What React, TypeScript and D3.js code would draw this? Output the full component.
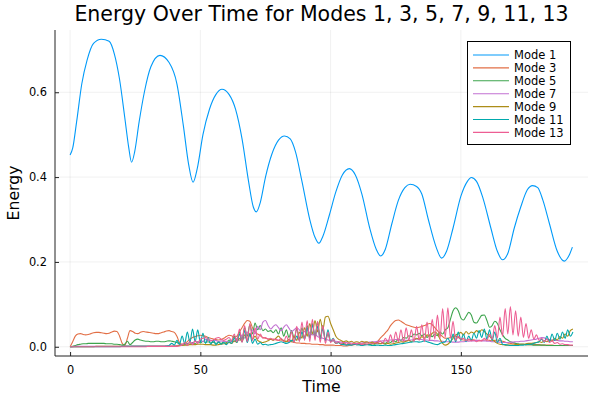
import { useRef, useEffect } from "react";
import * as d3 from "d3";

// sample times for the higher modes (one sample per time unit)
const sampleTime = d3.range(0, 194);

// Mode 1 at its turning points and flanks
const mode1Time = [
  0, 1, 2.5, 4.5, 6.5, 9, 12, 15, 17, 19, 21, 22.5, 23.6, 24.8, 26.5, 28.5, 31, 34.5, 38, 41, 43.5, 45.5, 47.2,
  48.8, 51, 53.5, 56, 58.3, 61, 63.5, 66, 68.5, 70.3, 71.5, 73, 75, 77.5, 80, 82.3, 84.5, 86.5, 89, 92,
  94, 95.5, 97, 99.5, 102, 104.5, 107.2, 109.5, 112, 115, 117.5, 119.2, 121, 123.5, 126, 128.5, 130.5,
  133, 135, 137.5, 140.5, 142.6, 144.5, 147, 150, 152.5, 154, 156, 158.5, 161.5, 164, 166, 168, 170.5,
  173, 175.5, 177.5, 179.5, 181.5, 184, 187, 189.7, 191.5, 192.8,
];
const mode1Energy = [
  0.452, 0.468, 0.53, 0.62, 0.675, 0.715, 0.725, 0.72, 0.69, 0.63, 0.54, 0.47, 0.435, 0.46, 0.53, 0.6, 0.66,
  0.687, 0.67, 0.62, 0.52, 0.43, 0.388, 0.42, 0.5, 0.56, 0.595, 0.607, 0.595, 0.56, 0.49, 0.39, 0.33,
  0.318, 0.34, 0.4, 0.455, 0.487, 0.497, 0.49, 0.46, 0.39, 0.3, 0.258, 0.244, 0.26, 0.31, 0.365, 0.405,
  0.42, 0.405, 0.36, 0.28, 0.23, 0.214, 0.23, 0.29, 0.345, 0.375, 0.383, 0.378, 0.36, 0.3, 0.235, 0.209,
  0.225, 0.28, 0.355, 0.39, 0.399, 0.39, 0.35, 0.28, 0.225, 0.205, 0.22, 0.28, 0.33, 0.37, 0.38, 0.375,
  0.345, 0.29, 0.225, 0.202, 0.215, 0.235,
];

const mode3 = [
  0, 0.012, 0.025, 0.03, 0.031, 0.029, 0.028, 0.029, 0.031, 0.033,
  0.034, 0.034, 0.033, 0.032, 0.031, 0.032, 0.035, 0.037, 0.036, 0.025,
  0.008, 0.003, 0.02, 0.038, 0.036, 0.032, 0.031, 0.034, 0.036, 0.035,
  0.034, 0.033, 0.032, 0.031, 0.031, 0.033, 0.035, 0.037, 0.038, 0.036,
  0.034, 0.025, 0.01, 0.006, 0.008, 0.012, 0.018, 0.022, 0.024, 0.026,
  0.027, 0.026, 0.025, 0.022, 0.02, 0.018, 0.017, 0.016, 0.017, 0.02,
  0.024, 0.027, 0.026, 0.022, 0.025, 0.035, 0.045, 0.055, 0.062, 0.06,
  0.045, 0.035, 0.03, 0.026, 0.022, 0.02, 0.018, 0.017, 0.018, 0.016,
  0.015, 0.016, 0.014, 0.013, 0.012, 0.012, 0.01, 0.009, 0.009, 0.008,
  0.008, 0.007, 0.007, 0.006, 0.006, 0.006, 0.005, 0.005, 0.004, 0.004,
  0.004, 0.004, 0.003, 0.003, 0.003, 0.002, 0.002, 0.003, 0.004, 0.005,
  0.006, 0.006, 0.007, 0.007, 0.006, 0.006, 0.007, 0.008, 0.012, 0.02,
  0.026, 0.033, 0.04, 0.05, 0.057, 0.062, 0.063, 0.06, 0.056, 0.052,
  0.05, 0.048, 0.046, 0.045, 0.046, 0.048, 0.05, 0.053, 0.055, 0.052,
  0.045, 0.038, 0.03, 0.024, 0.02, 0.02, 0.022, 0.024, 0.025, 0.022,
  0.018, 0.016, 0.015, 0.016, 0.017, 0.016, 0.015, 0.014, 0.015, 0.016,
  0.016, 0.015, 0.014, 0.015, 0.016, 0.015, 0.013, 0.011, 0.009, 0.008,
  0.007, 0.007, 0.006, 0.006, 0.006, 0.005, 0.005, 0.005, 0.005, 0.005,
  0.005, 0.004, 0.004, 0.004, 0.004, 0.004, 0.003, 0.003, 0.003, 0.003,
  0.003, 0.003, 0.003, 0.003,
];

const mode5 = [
  0, 0.001, 0.003, 0.005, 0.006, 0.007, 0.007, 0.008, 0.008, 0.008,
  0.008, 0.008, 0.008, 0.008, 0.007, 0.007, 0.007, 0.006, 0.006, 0.005,
  0.004, 0.006, 0.013, 0.005, 0.01, 0.016, 0.018, 0.016, 0.014, 0.013,
  0.013, 0.012, 0.012, 0.013, 0.013, 0.012, 0.012, 0.013, 0.014, 0.013,
  0.012, 0.01, 0.006, 0.004, 0.005, 0.008, 0.006, 0.01, 0.007, 0.012,
  0.009, 0.013, 0.01, 0.012, 0.009, 0.011, 0.008, 0.01, 0.008, 0.012,
  0.01, 0.016, 0.012, 0.025, 0.015, 0.035, 0.018, 0.045, 0.025, 0.052,
  0.03, 0.056, 0.04, 0.05, 0.038, 0.042, 0.036, 0.038, 0.033, 0.04,
  0.03, 0.045, 0.025, 0.04, 0.022, 0.038, 0.02, 0.042, 0.018, 0.045,
  0.02, 0.05, 0.022, 0.055, 0.025, 0.058, 0.022, 0.05, 0.015, 0.03,
  0.012, 0.015, 0.008, 0.01, 0.006, 0.008, 0.005, 0.007, 0.005, 0.006,
  0.005, 0.006, 0.004, 0.005, 0.006, 0.005, 0.007, 0.006, 0.008, 0.007,
  0.01, 0.008, 0.012, 0.01, 0.015, 0.012, 0.018, 0.015, 0.022, 0.02,
  0.026, 0.024, 0.03, 0.028, 0.032, 0.026, 0.03, 0.022, 0.028, 0.024,
  0.03, 0.026, 0.035, 0.03, 0.04, 0.045, 0.065, 0.085, 0.092, 0.085,
  0.068, 0.063, 0.072, 0.081, 0.075, 0.058, 0.056, 0.065, 0.074, 0.075,
  0.062, 0.046, 0.05, 0.06, 0.055, 0.04, 0.028, 0.02, 0.016, 0.012,
  0.01, 0.008, 0.007, 0.006, 0.006, 0.005, 0.005, 0.005, 0.004, 0.004,
  0.004, 0.004, 0.004, 0.003, 0.003, 0.003, 0.003, 0.003, 0.003, 0.003,
  0.003, 0.003, 0.003, 0.003,
];

const mode7 = [
  0, 0, 0.001, 0.001, 0.001, 0.001, 0.001, 0.001, 0.001, 0.001,
  0.001, 0.001, 0.001, 0.001, 0.001, 0.001, 0.001, 0.001, 0.001, 0.001,
  0.001, 0.001, 0.002, 0.001, 0.002, 0.002, 0.002, 0.002, 0.002, 0.002,
  0.002, 0.002, 0.002, 0.002, 0.002, 0.002, 0.002, 0.002, 0.002, 0.002,
  0.002, 0.003, 0.004, 0.005, 0.008, 0.006, 0.012, 0.008, 0.014, 0.01,
  0.015, 0.012, 0.018, 0.014, 0.016, 0.013, 0.015, 0.012, 0.014, 0.012,
  0.013, 0.011, 0.014, 0.012, 0.02, 0.015, 0.028, 0.02, 0.035, 0.025,
  0.04, 0.03, 0.048, 0.04, 0.058, 0.062, 0.05, 0.042, 0.048, 0.052,
  0.045, 0.038, 0.046, 0.052, 0.044, 0.036, 0.04, 0.045, 0.04, 0.032,
  0.036, 0.04, 0.032, 0.028, 0.03, 0.024, 0.022, 0.02, 0.018, 0.016,
  0.015, 0.014, 0.013, 0.012, 0.011, 0.01, 0.01, 0.009, 0.009, 0.008,
  0.008, 0.008, 0.009, 0.01, 0.01, 0.011, 0.012, 0.012, 0.013, 0.013,
  0.014, 0.014, 0.015, 0.016, 0.016, 0.017, 0.017, 0.016, 0.016, 0.015,
  0.015, 0.016, 0.017, 0.018, 0.018, 0.017, 0.016, 0.016, 0.015, 0.015,
  0.014, 0.014, 0.013, 0.013, 0.012, 0.012, 0.012, 0.011, 0.011, 0.011,
  0.012, 0.012, 0.013, 0.013, 0.014, 0.014, 0.015, 0.015, 0.014, 0.014,
  0.013, 0.013, 0.012, 0.012, 0.011, 0.011, 0.01, 0.01, 0.01, 0.011,
  0.011, 0.012, 0.012, 0.013, 0.013, 0.014, 0.015, 0.016, 0.017, 0.018,
  0.02, 0.022, 0.021, 0.019, 0.017, 0.016, 0.015, 0.015, 0.014, 0.014,
  0.013, 0.013, 0.012, 0.012,
];

const mode9 = [
  0, 0, 0, 0, 0, 0, 0, 0, 0, 0,
  0.001, 0.001, 0.001, 0.001, 0.001, 0.001, 0.001, 0.001, 0.001, 0.001,
  0.001, 0.001, 0.001, 0.001, 0.001, 0.001, 0.001, 0.001, 0.001, 0.001,
  0.001, 0.001, 0.001, 0.001, 0.001, 0.001, 0.001, 0.001, 0.001, 0.001,
  0.002, 0.002, 0.003, 0.003, 0.004, 0.004, 0.005, 0.005, 0.005, 0.006,
  0.006, 0.006, 0.005, 0.005, 0.005, 0.004, 0.004, 0.005, 0.006, 0.007,
  0.008, 0.01, 0.008, 0.014, 0.01, 0.02, 0.012, 0.028, 0.015, 0.032,
  0.018, 0.025, 0.015, 0.012, 0.01, 0.012, 0.014, 0.018, 0.015, 0.02,
  0.025, 0.018, 0.015, 0.012, 0.018, 0.012, 0.025, 0.015, 0.035, 0.02,
  0.045, 0.025, 0.055, 0.03, 0.062, 0.035, 0.065, 0.04, 0.07, 0.072,
  0.055, 0.04, 0.025, 0.018, 0.015, 0.012, 0.014, 0.011, 0.013, 0.01,
  0.012, 0.01, 0.013, 0.011, 0.012, 0.009, 0.011, 0.008, 0.01, 0.007,
  0.008, 0.006, 0.008, 0.006, 0.007, 0.009, 0.01, 0.012, 0.011, 0.013,
  0.015, 0.012, 0.016, 0.02, 0.018, 0.024, 0.02, 0.028, 0.025, 0.032,
  0.035, 0.03, 0.018, 0.008, 0.004, 0.006, 0.012, 0.02, 0.028, 0.03,
  0.034, 0.028, 0.036, 0.03, 0.035, 0.032, 0.038, 0.034, 0.04, 0.036,
  0.03, 0.025, 0.018, 0.012, 0.008, 0.006, 0.005, 0.004, 0.004, 0.004,
  0.004, 0.005, 0.005, 0.006, 0.006, 0.007, 0.008, 0.008, 0.009, 0.01,
  0.012, 0.01, 0.014, 0.012, 0.016, 0.014, 0.02, 0.016, 0.024, 0.02,
  0.03, 0.025, 0.038, 0.042,
];

const mode11 = [
  0, 0, 0, 0, 0, 0, 0, 0, 0, 0,
  0, 0, 0, 0, 0, 0, 0, 0, 0, 0,
  0.001, 0.001, 0.001, 0.001, 0.001, 0.001, 0.001, 0.001, 0.001, 0.001,
  0.001, 0.001, 0.001, 0.001, 0.001, 0.001, 0.001, 0.002, 0.003, 0.008,
  0.004, 0.015, 0.006, 0.025, 0.008, 0.035, 0.01, 0.042, 0.012, 0.04,
  0.01, 0.032, 0.008, 0.022, 0.006, 0.015, 0.005, 0.012, 0.006, 0.01,
  0.005, 0.012, 0.008, 0.02, 0.01, 0.03, 0.012, 0.038, 0.01, 0.03,
  0.008, 0.018, 0.006, 0.01, 0.005, 0.006, 0.004, 0.005, 0.006, 0.008,
  0.01, 0.012, 0.01, 0.008, 0.01, 0.015, 0.012, 0.025, 0.015, 0.035,
  0.018, 0.045, 0.02, 0.052, 0.022, 0.048, 0.018, 0.042, 0.015, 0.04,
  0.012, 0.02, 0.008, 0.01, 0.006, 0.005, 0.004, 0.005, 0.004, 0.006,
  0.005, 0.004, 0.003, 0.004, 0.005, 0.004, 0.003, 0.003, 0.004, 0.003,
  0.003, 0.004, 0.003, 0.003, 0.004, 0.005, 0.006, 0.007, 0.008, 0.009,
  0.01, 0.011, 0.012, 0.012, 0.011, 0.012, 0.014, 0.012, 0.01, 0.008,
  0.006, 0.005, 0.008, 0.01, 0.012, 0.02, 0.01, 0.03, 0.012, 0.035,
  0.015, 0.03, 0.012, 0.025, 0.015, 0.032, 0.02, 0.038, 0.022, 0.042,
  0.018, 0.04, 0.015, 0.035, 0.01, 0.02, 0.006, 0.005, 0.004, 0.003,
  0.003, 0.003, 0.003, 0.004, 0.004, 0.005, 0.006, 0.006, 0.008, 0.01,
  0.012, 0.018, 0.01, 0.025, 0.012, 0.03, 0.015, 0.032, 0.018, 0.035,
  0.02, 0.04, 0.025, 0.035,
];

const mode13 = [
  0, 0, 0, 0, 0, 0, 0, 0, 0, 0,
  0, 0, 0, 0, 0, 0, 0, 0, 0, 0,
  0, 0, 0, 0, 0, 0, 0, 0, 0, 0,
  0.001, 0.001, 0.001, 0.001, 0.001, 0.001, 0.001, 0.001, 0.001, 0.001,
  0.001, 0.001, 0.002, 0.004, 0.01, 0.003, 0.012, 0.005, 0.014, 0.008,
  0.018, 0.02, 0.022, 0.018, 0.014, 0.016, 0.02, 0.022, 0.018, 0.015,
  0.018, 0.022, 0.015, 0.03, 0.012, 0.042, 0.01, 0.05, 0.012, 0.055,
  0.015, 0.045, 0.018, 0.03, 0.02, 0.022, 0.018, 0.02, 0.016, 0.018,
  0.015, 0.02, 0.012, 0.025, 0.012, 0.035, 0.01, 0.048, 0.012, 0.058,
  0.015, 0.062, 0.012, 0.065, 0.015, 0.06, 0.01, 0.05, 0.008, 0.035,
  0.01, 0.018, 0.008, 0.012, 0.007, 0.01, 0.006, 0.009, 0.006, 0.008,
  0.006, 0.008, 0.005, 0.007, 0.006, 0.009, 0.007, 0.01, 0.008, 0.014,
  0.008, 0.02, 0.01, 0.028, 0.01, 0.035, 0.012, 0.04, 0.012, 0.045,
  0.015, 0.04, 0.012, 0.048, 0.015, 0.052, 0.012, 0.058, 0.015, 0.065,
  0.018, 0.075, 0.02, 0.09, 0.022, 0.092, 0.02, 0.06, 0.015, 0.025,
  0.018, 0.02, 0.015, 0.018, 0.014, 0.016, 0.012, 0.015, 0.014, 0.02,
  0.015, 0.03, 0.018, 0.05, 0.02, 0.07, 0.025, 0.09, 0.03, 0.095,
  0.028, 0.085, 0.025, 0.07, 0.022, 0.055, 0.02, 0.04, 0.018, 0.028,
  0.015, 0.02, 0.012, 0.018, 0.01, 0.014, 0.008, 0.01, 0.006, 0.007,
  0.005, 0.005, 0.004, 0.004,
];

const seriesNames = ["Mode 1", "Mode 3", "Mode 5", "Mode 7", "Mode 9", "Mode 11", "Mode 13"];
const seriesColors = ["#009af9", "#e26f46", "#3da44d", "#c270d2", "#ac8d18", "#00a9ad", "#ed5e93"];
const xTicks = [0, 50, 100, 150];
const yTicks = [0, 0.2, 0.4, 0.6];

type Pt = [number, number];

export default function App() {
  const ref = useRef<SVGSVGElement | null>(null);

  useEffect(() => {
    if (!ref.current) return;
    const W = 600;
    const H = 400;
    const margin = { top: 30, right: 12, bottom: 44, left: 55 };
    const font = "DejaVu Sans, sans-serif";

    const svg = d3.select(ref.current);
    svg.selectAll("*").remove();
    svg.attr("width", W).attr("height", H).attr("viewBox", `0 0 ${W} ${H}`);

    const series: Pt[][] = [
      mode1Time.map((t, i) => [t, mode1Energy[i]] as Pt),
      ...[mode3, mode5, mode7, mode9, mode11, mode13].map((vals) =>
        vals.map((v, i) => [sampleTime[i], v] as Pt)
      ),
    ];

    // Plots-style 3% padding around the data extent
    const xExt = [0, d3.max(series, (s) => d3.max(s, (d) => d[0])) as number];
    const yExt = [0, d3.max(series, (s) => d3.max(s, (d) => d[1])) as number];
    const xPad = (xExt[1] - xExt[0]) * 0.03;
    const yPad = (yExt[1] - yExt[0]) * 0.03;

    const x = d3
      .scaleLinear()
      .domain([xExt[0] - xPad, xExt[1] + xPad])
      .range([margin.left, W - margin.right]);
    const y = d3
      .scaleLinear()
      .domain([yExt[0] - yPad, yExt[1] + yPad])
      .range([H - margin.bottom, margin.top]);

    const x0 = margin.left;
    const x1 = W - margin.right;
    const y0 = H - margin.bottom;
    const y1 = margin.top;

    // grid
    const grid = svg.append("g").attr("stroke", "#000").attr("stroke-opacity", 0.1).attr("stroke-width", 0.6);
    xTicks.forEach((t) => {
      grid.append("line").attr("x1", x(t)).attr("x2", x(t)).attr("y1", y0).attr("y2", y1);
    });
    yTicks.forEach((t) => {
      grid.append("line").attr("x1", x0).attr("x2", x1).attr("y1", y(t)).attr("y2", y(t));
    });

    // series
    const line = d3
      .line<Pt>()
      .x((d) => x(d[0]))
      .y((d) => y(d[1]))
      .curve(d3.curveMonotoneX);

    series.forEach((s, i) => {
      svg
        .append("path")
        .attr("fill", "none")
        .attr("stroke", seriesColors[i])
        .attr("stroke-width", 1.1)
        .attr("stroke-linejoin", "round")
        .attr("d", line(s) || "");
    });

    // axes (Plots draws ticks pointing inward)
    const xAxis = svg
      .append("g")
      .attr("transform", `translate(0,${y0})`)
      .call(d3.axisBottom(x).tickValues(xTicks).tickSizeInner(-4).tickSizeOuter(0).tickPadding(10).tickFormat(d3.format("d")));
    const yAxis = svg
      .append("g")
      .attr("transform", `translate(${x0},0)`)
      .call(d3.axisLeft(y).tickValues(yTicks).tickSizeInner(-4).tickSizeOuter(0).tickPadding(8).tickFormat(d3.format(".1f")));
    [xAxis, yAxis].forEach((g) => {
      g.select(".domain").attr("stroke", "#222").attr("stroke-width", 1);
      g.selectAll(".tick line").attr("stroke", "#222");
      g.selectAll(".tick text").attr("font-family", font).attr("font-size", 11.4).attr("fill", "#000");
    });
    xAxis.select(".domain").attr("d", `M${x0},0H${x1}`);
    yAxis.select(".domain").attr("d", `M0,${y0}V${y1}`);

    // title and axis labels
    svg
      .append("text")
      .attr("x", (x0 + x1) / 2)
      .attr("y", 21)
      .attr("text-anchor", "middle")
      .attr("font-family", font)
      .attr("font-size", 20.5)
      .text("Energy Over Time for Modes 1, 3, 5, 7, 9, 11, 13");
    svg
      .append("text")
      .attr("x", (x0 + x1) / 2)
      .attr("y", 392)
      .attr("text-anchor", "middle")
      .attr("font-family", font)
      .attr("font-size", 15.7)
      .text("Time");
    svg
      .append("text")
      .attr("transform", `translate(19,${(y0 + y1) / 2}) rotate(-90)`)
      .attr("text-anchor", "middle")
      .attr("font-family", font)
      .attr("font-size", 15.7)
      .text("Energy");

    // legend
    const legend = svg.append("g");
    legend
      .append("rect")
      .attr("x", 467.5)
      .attr("y", 41.5)
      .attr("width", 103)
      .attr("height", 103)
      .attr("fill", "#fff")
      .attr("stroke", "#000")
      .attr("stroke-width", 1);
    seriesNames.forEach((name, i) => {
      const ly = 55 + i * 12.9;
      legend
        .append("line")
        .attr("x1", 473)
        .attr("x2", 509)
        .attr("y1", ly)
        .attr("y2", ly)
        .attr("stroke", seriesColors[i])
        .attr("stroke-width", 1.1);
      legend
        .append("text")
        .attr("x", 514)
        .attr("y", ly)
        .attr("dy", "0.36em")
        .attr("font-family", font)
        .attr("font-size", 11.5)
        .text(name);
    });
  }, []);

  return <svg ref={ref} style={{ position: "absolute", left: 0, top: 0, background: "#fff" }} />;
}
